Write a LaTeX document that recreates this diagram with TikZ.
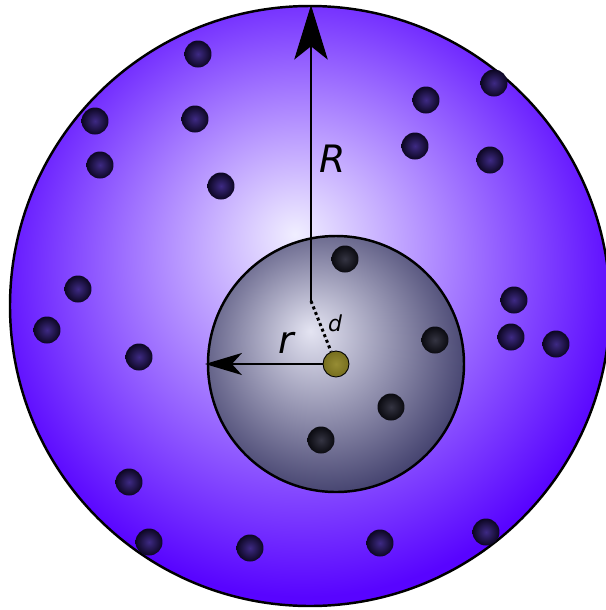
\documentclass[tikz,border=0pt]{standalone}
\usepackage{fontspec}
\setsansfont{DejaVu Sans}
\usetikzlibrary{arrows.meta}
\definecolor{OuterBlue}{RGB}{88,4,255}
\definecolor{BigCore}{RGB}{240,238,255}
\definecolor{CellEdge}{RGB}{60,58,104}
\definecolor{CellCore}{RGB}{228,228,242}
\definecolor{FreeCore}{RGB}{62,42,132}
\definecolor{FreeEdge}{RGB}{12,6,34}
\definecolor{BoundCore}{RGB}{52,52,66}
\definecolor{BoundEdge}{RGB}{10,10,16}
\definecolor{Tracer}{RGB}{118,110,30}
\definecolor{TracerCore}{RGB}{150,140,52}
\pgfdeclareradialshading{bigglow}{\pgfpoint{-1.25bp}{6bp}}{color(0bp)=(BigCore); color(27bp)=(OuterBlue); color(50bp)=(OuterBlue)}
\pgfdeclareradialshading{cellglow}{\pgfpoint{-5bp}{6.5bp}}{color(0bp)=(CellCore); color(30bp)=(CellEdge); color(50bp)=(CellEdge)}
\tikzset{
  freeball/.style={circle, minimum size=0.54cm, inner sep=0pt, inner color=FreeCore, outer color=FreeEdge},
  boundball/.style={circle, minimum size=0.54cm, inner sep=0pt, inner color=BoundCore, outer color=BoundEdge},
  lbl/.style={font=\sffamily\itshape\fontsize{21.5}{22}\selectfont, inner sep=0pt}
}
\begin{document}
\begin{tikzpicture}[x=0.02cm, y=-0.02cm]
  \useasboundingbox (0,0) rectangle (606,610);
  \clip (0,0) rectangle (606,610);
  \coordinate (O) at (310,306);
  \coordinate (C) at (336,364);
  % outer sphere and inner cell
  \shade[shading=bigglow] (O) circle (300);
  \draw[line width=1.4pt] (O) circle (300);
  \shade[shading=cellglow] (C) circle (128);
  \draw[line width=1.4pt] (C) circle (128);
  % particles
  \foreach \x/\y [count=\i] in {198/54, 95/121, 195/119, 100/165, 221/186, 426/100, 494/83, 415/146,
      490/160, 78/289, 47/330, 139/357, 514/300, 511/337, 556/344, 129/482, 149/542, 250/548, 380/543, 486/532}
    \node[freeball] (f\i) at (\x,\y) {};
  \foreach \x/\y [count=\i] in {345/259, 435/340, 391/407, 321/440}
    \node[boundball] (b\i) at (\x,\y) {};
  % radii
  \coordinate (Rtop) at (311,5);
  \coordinate (Rfoot) at (311,301);
  \coordinate (rtip) at (205,364);
  \draw[line width=1.7pt, -{Stealth[length=31pt, width=19pt, inset=7.5pt]}] (Rfoot) -- (Rtop);
  \draw[line width=1.1pt, -{Stealth[length=21pt, width=12.5pt, inset=5.7pt]}] (C) -- (rtip);
  \node[circle, draw=black, line width=0.5pt, minimum size=0.52cm, inner sep=0pt,
    inner color=TracerCore, outer color=Tracer] (t) at (C) {};
  \draw[line width=1.7pt, dash pattern=on 1.7pt off 1.7pt] (Rfoot) -- (t);
  \node[lbl] (Rl) at (333,159) {R};
  \node[lbl] (rl) at (286,343) {r};
  \node[lbl, font=\sffamily\itshape\fontsize{12.5}{13}\selectfont] (dl) at (335,323) {d};
\end{tikzpicture}
\end{document}
